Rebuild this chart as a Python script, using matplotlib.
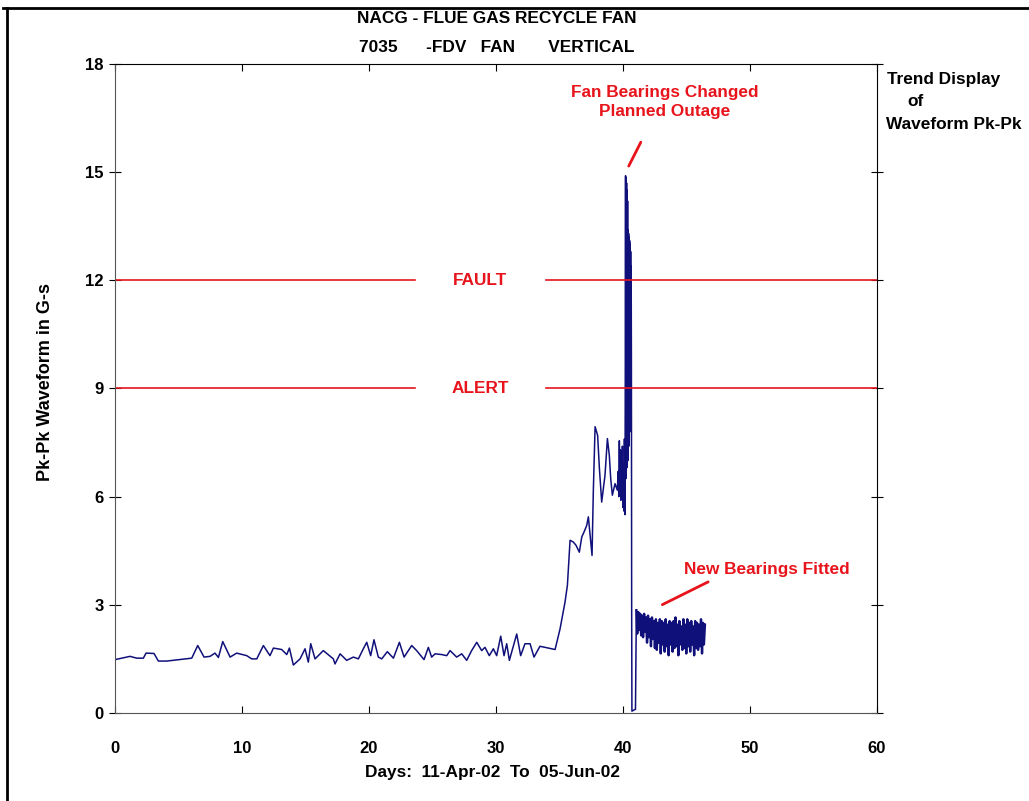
import matplotlib
matplotlib.use("Agg")
import matplotlib.pyplot as plt
from matplotlib.lines import Line2D

# readings before the bearing change (days, Pk-Pk in G-s)
days_before = [0, 1.18, 1.71, 2.23, 2.44, 3.07, 3.41, 4.07, 6.04, 6.51, 7.01, 7.48,
               7.87, 8.14, 8.48, 9.06, 9.58, 10.37, 10.76, 11.16, 11.68, 12.20, 12.47,
               13.12, 13.52, 13.73, 14.04, 14.57, 14.96, 15.22, 15.41, 15.75, 16.40,
               17.19, 17.32, 17.72, 18.24, 18.77, 19.16, 19.55, 19.82, 20.13, 20.39,
               20.73, 21.00, 21.44, 21.92, 22.39, 22.76, 23.36, 23.75, 24.33, 24.67,
               24.93, 25.20, 25.72, 26.12, 26.38, 26.90, 27.30, 27.69, 28.08, 28.48,
               28.87, 29.13, 29.47, 29.79, 30.05, 30.37, 30.63, 30.84, 31.05, 31.63,
               31.94, 32.28, 32.68, 32.99, 33.46, 34.65, 35.04, 35.43, 35.62, 35.83,
               36.09, 36.30, 36.56, 36.75, 36.93, 37.14, 37.27, 37.40, 37.56, 37.66,
               37.80, 38.00, 38.14, 38.32, 38.58, 38.77, 38.92, 39.03, 39.16, 39.37,
               39.55, 39.62, 39.67, 39.71, 39.75, 39.79, 39.83, 39.87, 39.91, 39.95,
               39.99, 40.03, 40.07, 40.11, 40.15]
vals_before = [1.48, 1.57, 1.52, 1.52, 1.66, 1.65, 1.44, 1.44, 1.52, 1.87, 1.55, 1.57,
               1.66, 1.54, 1.98, 1.55, 1.66, 1.59, 1.50, 1.50, 1.87, 1.59, 1.80,
               1.76, 1.62, 1.80, 1.33, 1.50, 1.78, 1.41, 1.92, 1.50, 1.73,
               1.50, 1.36, 1.64, 1.46, 1.55, 1.50, 1.78, 1.96, 1.59, 2.03,
               1.55, 1.50, 1.70, 1.52, 1.96, 1.55, 1.87, 1.73, 1.48, 1.82,
               1.55, 1.64, 1.62, 1.59, 1.73, 1.55, 1.64, 1.46, 1.73, 1.96,
               1.73, 1.82, 1.59, 1.78, 1.59, 2.13, 1.59, 1.92, 1.46, 2.19,
               1.59, 1.92, 1.92, 1.55, 1.85, 1.76, 2.33, 3.07, 3.54, 4.79,
               4.74, 4.65, 4.46, 4.88, 5.02, 5.20, 5.44, 4.97, 4.37, 6.13,
               7.94, 7.70, 6.78, 5.85, 6.59, 7.61, 7.15, 6.50, 6.04, 6.36,
               6.18, 6.70, 6.00, 7.55, 6.10, 7.30, 5.90, 7.00, 6.20, 7.40,
               5.70, 6.80, 5.60, 7.60, 5.50]

# the failure spike and the outage
days_spike = [40.18, 40.20, 40.22, 40.24, 40.26, 40.28, 40.30, 40.32, 40.34, 40.36,
              40.38, 40.40, 40.42, 40.44, 40.46, 40.48, 40.50, 40.52, 40.54, 40.56,
              40.58, 40.60, 40.62, 40.64, 40.66, 40.68, 40.70, 40.85, 40.98]
vals_spike = [9.50, 14.90, 6.50, 14.85, 7.20, 14.70, 6.80, 14.50, 8.00, 14.20,
              7.00, 13.40, 8.50, 13.30, 7.40, 13.20, 9.00, 13.10, 7.80, 13.00,
              8.60, 12.80, 9.20, 12.40, 9.80, 3.00, 0.05, 0.08, 0.10]

# readings after the new bearings were fitted
days_after = [41.05, 41.12, 41.20, 41.27, 41.35, 41.43, 41.50, 41.58, 41.66, 41.74,
              41.81, 41.89, 41.97, 42.04, 42.12, 42.20, 42.28, 42.35, 42.43, 42.51,
              42.59, 42.66, 42.74, 42.82, 42.90, 42.97, 43.05, 43.13, 43.20, 43.28,
              43.36, 43.44, 43.51, 43.59, 43.67, 43.75, 43.82, 43.90, 43.98, 44.05,
              44.13, 44.21, 44.29, 44.36, 44.44, 44.52, 44.60, 44.67, 44.75, 44.83,
              44.90, 44.98, 45.06, 45.14, 45.21, 45.29, 45.37, 45.45, 45.52, 45.60,
              45.68, 45.75, 45.83, 45.91, 45.99, 46.06, 46.14, 46.22, 46.30, 46.37,
              46.45]
vals_after = [2.85, 2.20, 2.80, 2.30, 2.75, 2.15, 2.70, 2.10, 2.75, 2.25,
              2.65, 1.95, 2.70, 2.10, 2.60, 1.85, 2.65, 2.05, 2.55, 1.80,
              2.60, 1.75, 2.50, 1.95, 2.60, 1.65, 2.55, 1.90, 2.50, 1.70,
              2.60, 1.85, 2.45, 1.60, 2.55, 1.90, 2.50, 1.70, 2.55, 1.80,
              2.65, 1.85, 2.45, 1.60, 2.55, 1.90, 2.40, 1.75, 2.60, 1.80,
              2.45, 1.65, 2.60, 1.85, 2.50, 1.70, 2.55, 1.90, 2.40, 1.60,
              2.55, 1.80, 2.50, 1.75, 2.45, 1.85, 2.60, 1.65, 2.50, 1.90,
              2.45]

fault_level = 12
alert_level = 9
label_gap = (23.6, 33.9)

plt.rcParams["font.family"] = ["Liberation Sans", "DejaVu Sans"]
navy = "#10107a"
red = "#e8141c"
fs = 12.4

fig = plt.figure(figsize=(10.29, 8.01), dpi=100)
ax = fig.add_axes([0.1118, 0.1099, 0.7405, 0.8102])

ax.plot(days_before + days_spike + days_after[:1], vals_before + vals_spike + vals_after[:1],
        color=navy, lw=1.1)
ax.plot(days_after, vals_after, color=navy, lw=1.7)

for level, name in [(fault_level, "FAULT"), (alert_level, "ALERT")]:
    ax.plot([0, label_gap[0]], [level, level], color=red, lw=1.2)
    ax.plot([label_gap[1], 60], [level, level], color=red, lw=1.2)
    ax.text(sum(label_gap) / 2, level, name, color=red, fontsize=fs, fontweight="bold",
            ha="center", va="center")

ax.text(43.3, 16.95, "Fan Bearings Changed\nPlanned Outage", color=red, fontsize=fs,
        fontweight="bold", ha="center", va="center", linespacing=1.3)
ax.annotate("", xy=(40.35, 15.1), xytext=(41.5, 15.9),
            arrowprops=dict(arrowstyle="-", color=red, lw=2))
ax.text(51.3, 3.97, "New Bearings Fitted", color=red, fontsize=fs, fontweight="bold",
        ha="center", va="center")
ax.annotate("", xy=(42.9, 2.97), xytext=(46.9, 3.67),
            arrowprops=dict(arrowstyle="-", color=red, lw=2))

ax.set_xlim(0, 60)
ax.set_ylim(0, 18)
ax.set_xticks(range(0, 61, 10))
ax.set_yticks(range(0, 19, 3))
ax.tick_params(axis="x", direction="in", length=5, pad=20, labelsize=12, top=True)
ax.tick_params(axis="y", direction="inout", length=8, pad=4, labelsize=12, right=True)
for lab in ax.get_xticklabels() + ax.get_yticklabels():
    lab.set_fontweight("bold")
ax.spines["left"].set_color("#555555")
ax.spines["bottom"].set_color("#555555")

fig.text(0.044, 0.523, "Pk-Pk Waveform in G-s", rotation=90, ha="center", va="center",
         fontsize=13, fontweight="bold")
fig.text(0.479, 0.036, "Days:  11-Apr-02  To  05-Jun-02", ha="center", va="center",
         fontsize=fs, fontweight="bold")
fig.text(0.483, 0.977, "NACG - FLUE GAS RECYCLE FAN", ha="center", va="center",
         fontsize=fs, fontweight="bold")
fig.text(0.483, 0.941, "7035      -FDV   FAN       VERTICAL", ha="center", va="center",
         fontsize=fs, fontweight="bold")
fig.text(0.862, 0.901, "Trend Display", ha="left", va="center", fontsize=fs, fontweight="bold")
fig.text(0.882, 0.873, "of", ha="left", va="center", fontsize=fs, fontweight="bold")
fig.text(0.861, 0.844, "Waveform Pk-Pk", ha="left", va="center", fontsize=fs, fontweight="bold")

# outer frame (top and left only)
fig.add_artist(Line2D([0.003, 1.0], [0.990, 0.990], color="black", lw=2))
fig.add_artist(Line2D([0.0068, 0.0068], [0.0, 0.990], color="black", lw=2))

fig.savefig("out.png", dpi=100)
